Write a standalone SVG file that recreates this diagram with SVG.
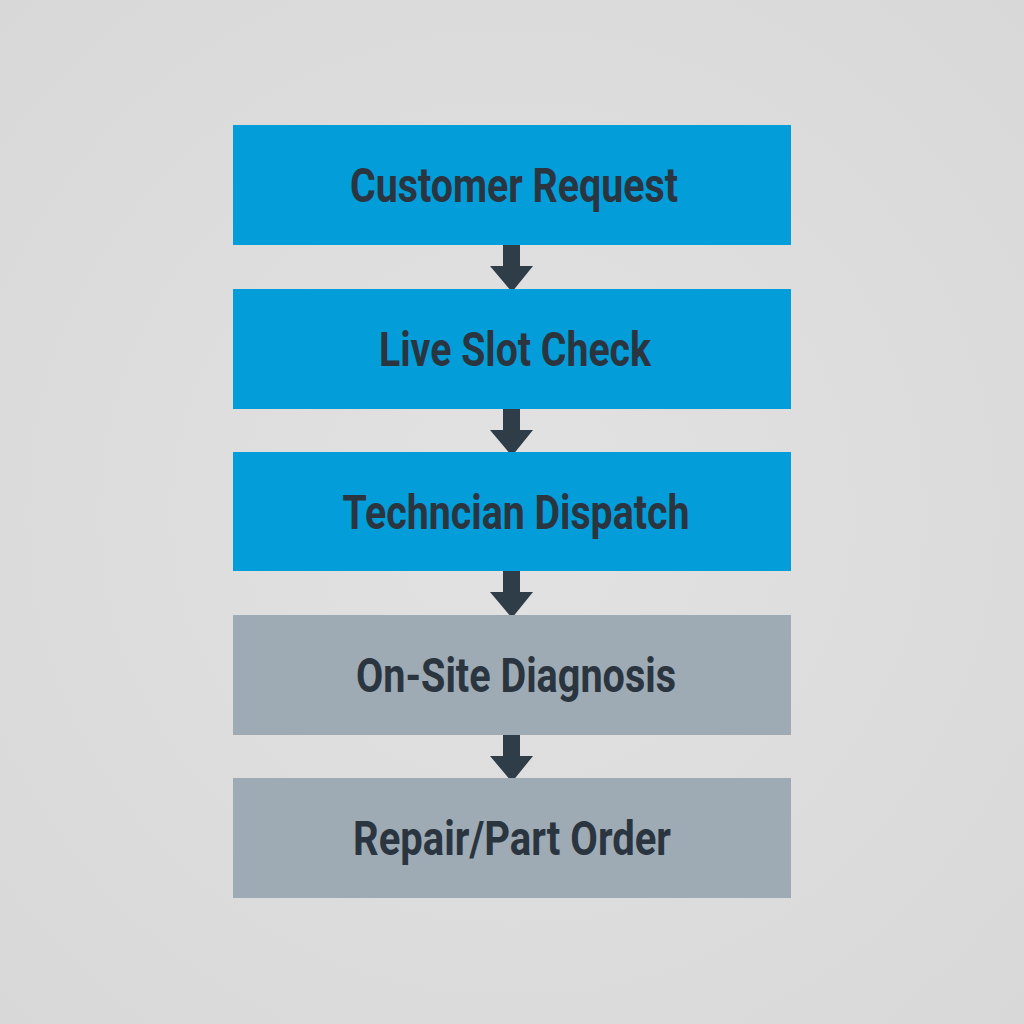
<svg xmlns="http://www.w3.org/2000/svg" width="1024" height="1024" viewBox="0 0 1024 1024">
<defs>
<style>
.blue{fill:#039dd9}
.grey{fill:#9eabb5}
.lbl{font-family:Roboto,"Liberation Sans",sans-serif;font-weight:700;font-size:49px;fill:#2b3540;text-anchor:middle}
.arrow{fill:#2f3d49}
</style>
<radialGradient id="bg" cx="50%" cy="50%" r="70%">
<stop offset="0" stop-color="#e2e2e2"/>
<stop offset="1" stop-color="#d8d8d8"/>
</radialGradient>
</defs>
<rect width="1024" height="1024" fill="url(#bg)"/>
<g id="connectors">
<polygon class="arrow" points="503,245 520,245 520,266 533,266 512,292 490,266 503,266"/>
<polygon class="arrow" points="503,409 520,409 520,430 533,430 512,456 490,430 503,430"/>
<polygon class="arrow" points="503,571 520,571 520,592 533,592 512,618 490,592 503,592"/>
<polygon class="arrow" points="503,735 520,735 520,756 533,756 512,782 490,756 503,756"/>
</g>
<g id="node1"><rect class="blue" x="233" y="125" width="558" height="120"/><text class="lbl" x="514" y="202" textLength="328" lengthAdjust="spacingAndGlyphs">Customer Request</text></g>
<g id="node2"><rect class="blue" x="233" y="289" width="558" height="120"/><text class="lbl" x="515" y="366" textLength="272" lengthAdjust="spacingAndGlyphs">Live Slot Check</text></g>
<g id="node3"><rect class="blue" x="233" y="452" width="558" height="119"/><text class="lbl" x="516" y="529" textLength="347" lengthAdjust="spacingAndGlyphs">Techncian Dispatch</text></g>
<g id="node4"><rect class="grey" x="233" y="615" width="558" height="120"/><text class="lbl" x="516" y="692" textLength="320" lengthAdjust="spacingAndGlyphs">On-Site Diagnosis</text></g>
<g id="node5"><rect class="grey" x="233" y="778" width="558" height="120"/><text class="lbl" x="512" y="855" textLength="318" lengthAdjust="spacingAndGlyphs">Repair/Part Order</text></g>
</svg>
